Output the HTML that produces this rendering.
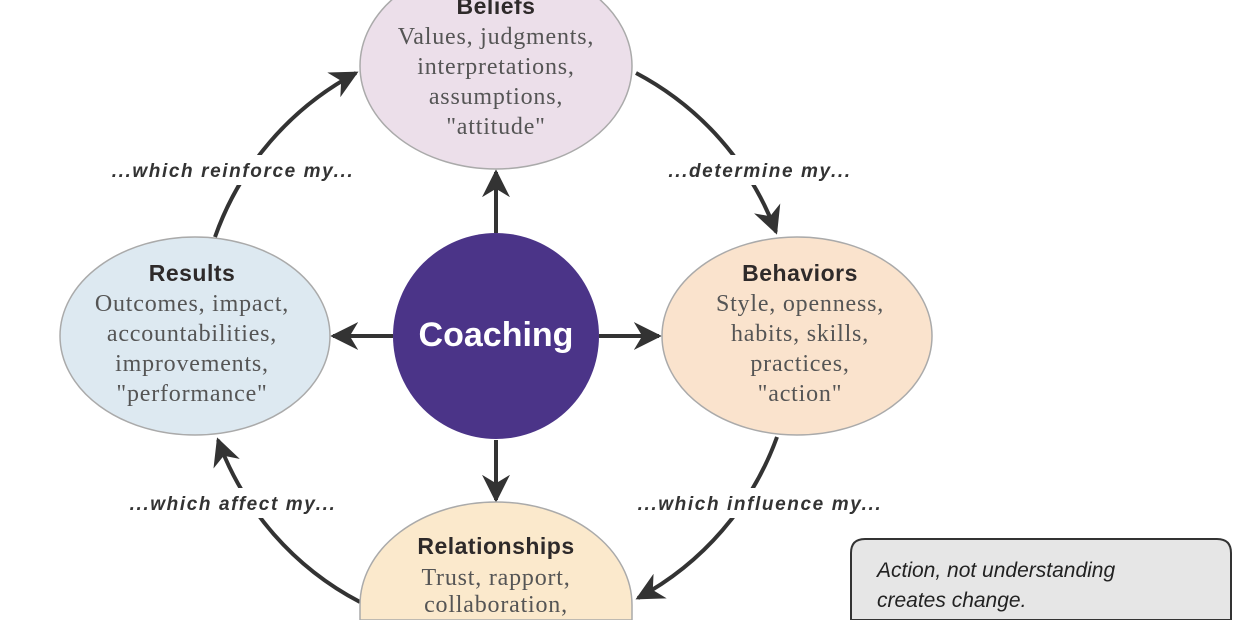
<!DOCTYPE html>
<html><head><meta charset="utf-8"><style>
html,body{margin:0;padding:0;background:#fff;width:1240px;height:620px;overflow:hidden;}
svg{display:block}
.t{font-family:"Liberation Sans",sans-serif;font-weight:bold;font-size:23px;fill:#2e2a2a;text-anchor:middle;letter-spacing:0.5px}
.b{font-family:"Liberation Serif",serif;font-size:24px;fill:#555;text-anchor:middle;letter-spacing:0.8px}
.l{font-family:"Liberation Sans",sans-serif;font-weight:bold;font-style:italic;font-size:19px;fill:#333;text-anchor:middle;letter-spacing:1.6px}
</style></head><body>
<svg width="1240" height="620" viewBox="0 0 1240 620">
<defs>
<marker id="a" viewBox="0 0 10 10" refX="9" refY="5" markerWidth="7" markerHeight="7" orient="auto-start-reverse"><path d="M0,0 L10,5 L0,10 L3,5 z" fill="#333"/></marker>
</defs>
<g fill="none" stroke="#333" stroke-width="4">
<path d="M215,237 A298,298 0 0 1 356,73" marker-end="url(#a)"/>
<path d="M636,73 A298,298 0 0 1 776,232" marker-end="url(#a)"/>
<path d="M777,437 A298,298 0 0 1 638,598" marker-end="url(#a)"/>
<path d="M360,602 A298,298 0 0 1 218,440" marker-end="url(#a)"/>
<path d="M496,233 L496,172" marker-end="url(#a)"/>
<path d="M496,440 L496,500" marker-end="url(#a)"/>
<path d="M393,336 L333,336" marker-end="url(#a)"/>
<path d="M599,336 L659,336" marker-end="url(#a)"/>
</g>
<rect x="100" y="155" width="265" height="30" fill="#fff"/>
<rect x="655" y="155" width="210" height="30" fill="#fff"/>
<rect x="115" y="488" width="235" height="30" fill="#fff"/>
<rect x="625" y="488" width="270" height="30" fill="#fff"/>
<text class="l" x="233" y="177">...which reinforce my...</text>
<text class="l" x="760" y="177">...determine my...</text>
<text class="l" x="233" y="510">...which affect my...</text>
<text class="l" x="760" y="510">...which influence my...</text>
<path d="M360,66 A136,103 0 0 1 632,66 A136,103 0 0 1 360,66 Z" fill="#ecdfea" stroke="#aaa" stroke-width="1.5"/>
<ellipse cx="195" cy="336" rx="135" ry="99" fill="#dde9f1" stroke="#aaa" stroke-width="1.5"/>
<ellipse cx="797" cy="336" rx="135" ry="99" fill="#fae3cd" stroke="#aaa" stroke-width="1.5"/>
<path d="M360,620 L360,605 A136,103 0 0 1 632,605 L632,620 Z" fill="#fbe9cc" stroke="#aaa" stroke-width="1.5"/>
<circle cx="496" cy="336" r="103" fill="#4b3488"/>
<text x="496" y="346" text-anchor="middle" font-family="Liberation Sans,sans-serif" font-weight="bold" font-size="34" fill="#fff">Coaching</text>
<text class="t" x="496" y="14">Beliefs</text>
<text class="b" x="496" y="44">Values, judgments,</text>
<text class="b" x="496" y="74">interpretations,</text>
<text class="b" x="496" y="104">assumptions,</text>
<text class="b" x="496" y="134">"attitude"</text>
<text class="t" x="192" y="281">Results</text>
<text class="b" x="192" y="311">Outcomes, impact,</text>
<text class="b" x="192" y="341">accountabilities,</text>
<text class="b" x="192" y="371">improvements,</text>
<text class="b" x="192" y="401">"performance"</text>
<text class="t" x="800" y="281">Behaviors</text>
<text class="b" x="800" y="311">Style, openness,</text>
<text class="b" x="800" y="341">habits, skills,</text>
<text class="b" x="800" y="371">practices,</text>
<text class="b" x="800" y="401">"action"</text>
<text class="t" x="496" y="554">Relationships</text>
<text class="b" x="496" y="585">Trust, rapport,</text>
<text class="b" x="496" y="612">collaboration,</text>
<path d="M851,620 L851,553 Q851,539 865,539 L1217,539 Q1231,539 1231,553 L1231,620 Z" fill="#e6e6e6" stroke="#333" stroke-width="2"/>
<text x="877" y="577" font-family="Liberation Sans,sans-serif" font-style="italic" font-size="21" fill="#222">Action, not understanding</text>
<text x="877" y="607" font-family="Liberation Sans,sans-serif" font-style="italic" font-size="21" fill="#222">creates change.</text>
</svg>
</body></html>
